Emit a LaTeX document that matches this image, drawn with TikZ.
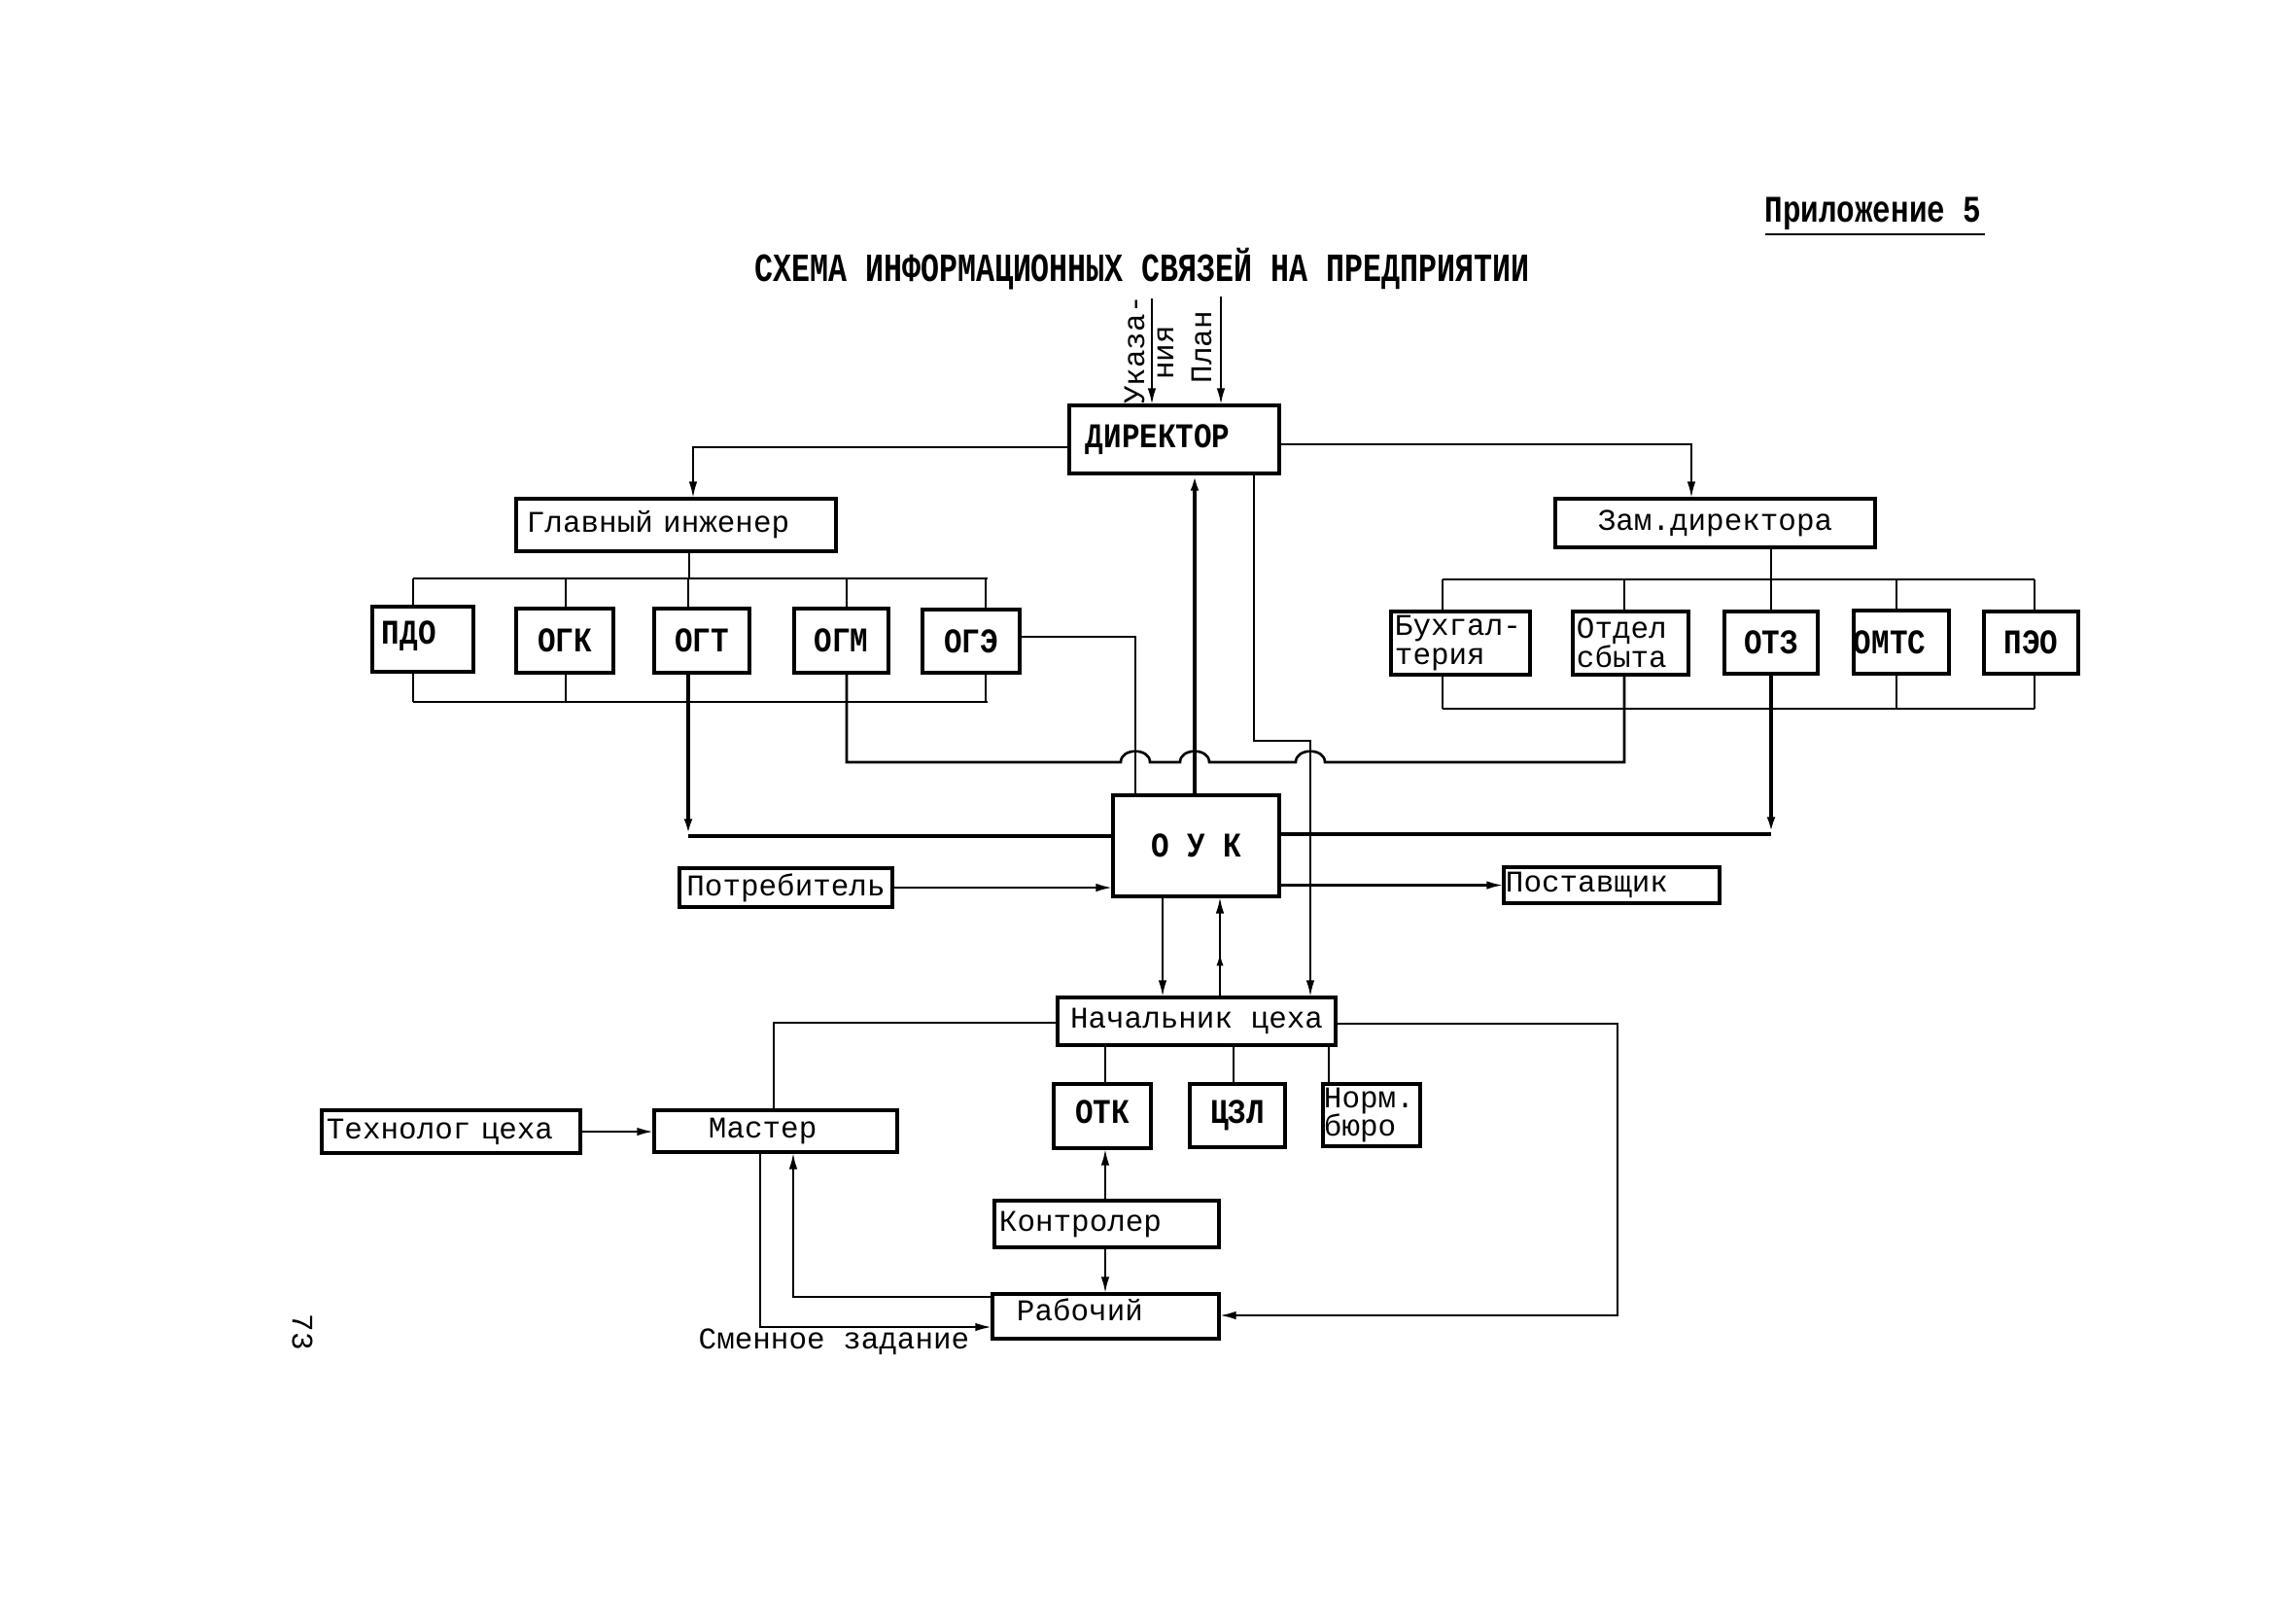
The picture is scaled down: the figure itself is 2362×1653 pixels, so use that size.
\documentclass[tikz,border=0pt]{standalone}
\usepackage{fontspec}
\usepackage{graphicx}
\newfontfamily\tw{Liberation Mono}
\usetikzlibrary{arrows.meta,decorations.markings}
\newcommand\capt[1]{\scalebox{1}[1.15]{\bfseries #1}}
\tikzset{
  box/.style={draw, line width=1.25pt, inner sep=0pt, outer sep=0pt, font=\tw\fontsize{8.8}{8.4}\selectfont},
  lbl/.style={inner sep=0pt, outer sep=0pt, font=\tw\fontsize{8.8}{8.4}\selectfont},
  ln/.style={line width=0.75pt},
  tk/.style={line width=1.15pt},
  arr/.style={-{Latex[length=5pt,width=2.4pt]}},
  mid arrow/.style={postaction={decorate,decoration={markings,mark=at position 0.45 with {\arrow{Latex[length=4pt,width=2pt]}}}}},
}
\begin{document}
\begin{tikzpicture}[x=0.01cm,y=-0.01cm]
\useasboundingbox (0,0) rectangle (2362,1653);

% titles
\node[lbl, font=\tw\fontsize{9}{9}\selectfont] (title) at (1175,277) {\scalebox{1}[1.3]{\bfseries СХЕМА ИНФОРМАЦИОННЫХ СВЯЗЕЙ НА ПРЕДПРИЯТИИ}};
\node[lbl] (app) at (1927,220) {\scalebox{1}[1.25]{\bfseries Приложение 5}};
\draw[ln] (1816,241) -- (2042,241);

% boxes
\node[box, minimum width=2.16cm, minimum height=0.70cm, text width=1.82cm, inner xsep=0.17cm, align=left] (dir) at (1208,452) {\capt{ДИРЕКТОР}};
\node[box, minimum width=3.29cm, minimum height=0.54cm, text width=3.07cm, inner xsep=0.11cm, align=left] (gi) at (695.5,540) {Главный инженер};
\node[box, minimum width=3.29cm, minimum height=0.50cm] (zam) at (1764.5,538) {Зам.директора};

\node[box, minimum width=1.04cm, minimum height=0.67cm, text width=0.84cm, inner xsep=0.10cm, align=left] (pdo) at (435,657.5) {\raisebox{0.14cm}{\capt{ПДО}}};
\node[box, minimum width=1.00cm, minimum height=0.66cm] (ogk) at (581,659) {\capt{ОГК}};
\node[box, minimum width=0.98cm, minimum height=0.66cm] (ogt) at (722,659) {\capt{ОГТ}};
\node[box, minimum width=0.97cm, minimum height=0.66cm] (ogm) at (865.5,659) {\capt{ОГМ}};
\node[box, minimum width=1.00cm, minimum height=0.65cm] (oge) at (999,659.5) {\capt{ОГЭ}};

\node[box, minimum width=1.43cm, minimum height=0.65cm, text width=1.35cm, inner xsep=0.04cm, align=left] (buh) at (1502.5,661.5) {\mbox{Бухгал-}\\терия};
\node[box, minimum width=1.19cm, minimum height=0.65cm, text width=1.11cm, inner xsep=0.04cm, align=left] (sbyt) at (1677.5,661.5) {Отдел\\сбыта};
\node[box, minimum width=0.96cm, minimum height=0.64cm] (otz) at (1822,661) {\capt{ОТЗ}};
\node[box, minimum width=0.98cm, minimum height=0.65cm, text width=0.98cm, align=left] (omts) at (1956,660.5) {\capt{ОМТС}};
\node[box, minimum width=0.97cm, minimum height=0.64cm] (peo) at (2089.5,661) {\capt{ПЭО}};

\node[box, minimum width=1.71cm, minimum height=1.04cm] (ouk) at (1230.5,870) {\capt{О У К}};
\node[box, minimum width=2.19cm, minimum height=0.40cm] (potr) at (808.5,913) {Потребитель};
\node[box, minimum width=2.22cm, minimum height=0.37cm, text width=2.18cm, inner xsep=0.02cm, align=left] (post) at (1658,910.5) {Поставщик};

\node[box, minimum width=2.86cm, minimum height=0.49cm] (nach) at (1231,1050.5) {Начальник цеха};
\node[box, minimum width=1.00cm, minimum height=0.66cm] (otk) at (1134,1148) {\raisebox{0.08cm}{\capt{ОТК}}};
\node[box, minimum width=0.98cm, minimum height=0.65cm] (czl) at (1273,1147.5) {\raisebox{0.08cm}{\capt{ЦЗЛ}}};
\node[box, minimum width=1.00cm, minimum height=0.64cm, text width=0.98cm, inner xsep=0.01cm, align=left] (norm) at (1411,1147) {Норм.\\бюро};
\node[box, minimum width=2.50cm, minimum height=0.43cm, text width=1.38cm, inner xsep=0.56cm, align=left] (master) at (798,1163.5) {Мастер};
\node[box, minimum width=2.66cm, minimum height=0.44cm, text width=2.56cm, inner xsep=0.05cm, align=left] (tech) at (464,1164) {Технолог цеха};
\node[box, minimum width=2.31cm, minimum height=0.48cm, text width=2.21cm, inner xsep=0.05cm, align=left] (kontr) at (1138.5,1259) {Контролер};
\node[box, minimum width=2.33cm, minimum height=0.46cm, text width=1.83cm, inner xsep=0.25cm, align=left] (rab) at (1137.5,1354) {\raisebox{0.14cm}{Рабочий}};

% free labels
\node[lbl, rotate=90] (uk) at (1167,360) {Указа-};
\node[lbl, rotate=90] (nia) at (1199,363) {ния};
\node[lbl, rotate=90] (plan) at (1236,357) {План};
\node[lbl] (smen) at (858,1380) {Сменное задание};
\node[lbl, rotate=-90] (page) at (311,1370) {73};

% director inputs
\coordinate (ukT) at (1185,307);
\coordinate (plT) at (1256,305);
\draw[ln,arr] (ukT) -- (ukT |- dir.north);
\draw[ln,arr] (plT) -- (plT |- dir.north);
\draw[ln,arr] (dir.west |- 0,460) -- (713,460) -- (713,0 |- gi.north);
\draw[ln,arr] (dir.east |- 0,457) -- (1740,457) -- (1740,0 |- zam.north);

% left tree
\draw[ln] (709,0 |- gi.south) -- (709,595);
\draw[ln] (425,595) -- (1016,595);
\foreach \x/\nn in {425/pdo,582/ogk,708/ogt,871/ogm,1014/oge} \draw[ln] (\x,595) -- (\x,0 |- \nn.north);
\draw[ln] (425,722) -- (1016,722);
\foreach \x/\nn in {425/pdo,582/ogk,1014/oge} \draw[ln] (\x,0 |- \nn.south) -- (\x,722);
\draw[tk,arr] (708,0 |- ogt.south) -- (708,860);
\draw[tk] (708,860) -- (ouk.west |- 0,860);
\draw[ln] (oge.east |- 0,655) -- (1168,655) -- (1168,0 |- ouk.north);

% right tree
\draw[ln] (1822,0 |- zam.south) -- (1822,596);
\draw[ln] (1484,596) -- (2093,596);
\foreach \x/\nn in {1484/buh,1671/sbyt,1822/otz,1951/omts,2093/peo} \draw[ln] (\x,596) -- (\x,0 |- \nn.north);
\draw[ln] (1484,729) -- (2093,729);
\foreach \x/\nn in {1484/buh,1951/omts,2093/peo} \draw[ln] (\x,0 |- \nn.south) -- (\x,729);
\draw[tk,arr] (1822,0 |- otz.south) -- (1822,858);
\draw[tk] (1822,858) -- (ouk.east |- 0,858);

% OGM -> Otdel sbyta line with bridges
\draw[ln] (871,0 |- ogm.south) -- (871,784) -- (1153,784)
  .. controls (1153,769) and (1183,769) .. (1183,784) -- (1214,784)
  .. controls (1214,769) and (1244,769) .. (1244,784) -- (1333,784)
  .. controls (1333,769) and (1363,769) .. (1363,784) -- (1671,784) -- (1671,0 |- sbyt.south);

% director <-> OUK, nach
\draw[tk,arr] (1229,0 |- ouk.north) -- (1229,0 |- dir.south);
\draw[ln,arr] (1290,0 |- dir.south) -- (1290,762) -- (1348,762) -- (1348,0 |- nach.north);

% OUK sides
\draw[ln,arr] (potr.east) -- (potr.east -| ouk.west);
\draw[ln,arr] (post.west -| ouk.east) -- (post.west);
\draw[ln,arr] (1196,0 |- ouk.south) -- (1196,0 |- nach.north);
\draw[ln,arr,mid arrow] (1255,0 |- nach.north) -- (1255,0 |- ouk.south);

% shop level
\draw[ln] (nach.west |- 0,1052) -- (796,1052) -- (796,0 |- master.north);
\draw[ln,arr] (nach.east |- 0,1053) -- (1664,1053) -- (1664,1353) -- (rab.east |- 0,1353);
\foreach \x/\nn in {1137/otk,1269/czl,1367/norm} \draw[ln] (\x,0 |- nach.south) -- (\x,0 |- \nn.north);
\draw[ln,arr] (tech.east |- 0,1164) -- (master.west |- 0,1164);
\draw[ln,arr] (1137,0 |- kontr.north) -- (1137,0 |- otk.south);
\draw[ln,arr] (1137,0 |- kontr.south) -- (1137,0 |- rab.north);
\draw[ln,arr] (rab.west |- 0,1334) -- (816,1334) -- (816,0 |- master.south);
\draw[ln,arr] (782,0 |- master.south) -- (782,1365) -- (rab.west |- 0,1365);
\end{tikzpicture}
\end{document}
